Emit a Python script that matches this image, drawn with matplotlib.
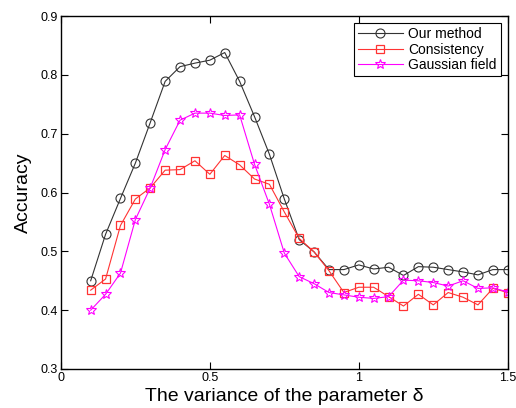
import matplotlib
matplotlib.use('Agg')
import matplotlib.pyplot as plt
import numpy as np

plt.rcParams['font.family'] = ['Liberation Sans', 'DejaVu Sans']

# variance of the parameter delta
x = [0.10, 0.15, 0.20, 0.25, 0.30, 0.35, 0.40, 0.45, 0.50, 0.55,
     0.60, 0.65, 0.70, 0.75, 0.80, 0.85, 0.90, 0.95, 1.00, 1.05,
     1.10, 1.15, 1.20, 1.25, 1.30, 1.35, 1.40, 1.45, 1.50]

our_method = [0.450, 0.529, 0.590, 0.650, 0.719, 0.789, 0.814, 0.820, 0.825, 0.838,
              0.789, 0.729, 0.665, 0.589, 0.520, 0.499, 0.469, 0.469, 0.477, 0.470,
              0.473, 0.459, 0.474, 0.473, 0.469, 0.465, 0.460, 0.469, 0.469]
consistency = [0.434, 0.453, 0.544, 0.589, 0.608, 0.638, 0.639, 0.654, 0.631, 0.663,
               0.647, 0.623, 0.614, 0.567, 0.522, 0.499, 0.467, 0.430, 0.439, 0.439,
               0.423, 0.407, 0.427, 0.409, 0.430, 0.422, 0.409, 0.437, 0.430]
gaussian = [0.400, 0.427, 0.463, 0.554, 0.608, 0.673, 0.723, 0.735, 0.735, 0.731,
            0.732, 0.648, 0.580, 0.497, 0.457, 0.445, 0.430, 0.426, 0.422, 0.420,
            0.423, 0.451, 0.450, 0.447, 0.441, 0.450, 0.437, 0.438, 0.431]

fig = plt.figure(figsize=(5.16, 4.08), dpi=100)
ax = fig.add_axes([0.118, 0.0956, 0.866, 0.865])

ax.plot(x, our_method, '-o', color='#333333', lw=0.8, ms=6.5, mfc='none', mew=0.8, label='Our method')
ax.plot(x, consistency, '-s', color='#ff3333', lw=0.8, ms=5.5, mfc='none', mew=0.9, label='Consistency')
ax.plot(x, gaussian, '-*', color='#ff00ff', lw=0.8, ms=7.5, mfc='none', mew=0.8, label='Gaussian field')

ax.set_xlim(0, 1.5)
ax.set_ylim(0.3, 0.9)
ax.set_xticks([0, 0.5, 1, 1.5])
ax.set_xticklabels(['0', '0.5', '1', '1.5'])
ax.set_yticks([0.3, 0.4, 0.5, 0.6, 0.7, 0.8, 0.9])
ax.tick_params(direction='in', top=True, right=True, labelsize=9, length=5, width=0.8, pad=2)
for s in ax.spines.values():
    s.set_linewidth(1.0)

ax.set_xlabel('The variance of the parameter δ', fontsize=14, labelpad=3)
ax.set_ylabel('Accuracy', fontsize=14, labelpad=6)

leg = ax.legend(loc='upper right', fontsize=10, fancybox=False, framealpha=1,
                edgecolor='black', borderaxespad=0.5, handlelength=3.2,
                handletextpad=0.4, labelspacing=0.1, borderpad=0.3)
leg.get_frame().set_linewidth(0.8)

fig.savefig('out.png', dpi=100)
